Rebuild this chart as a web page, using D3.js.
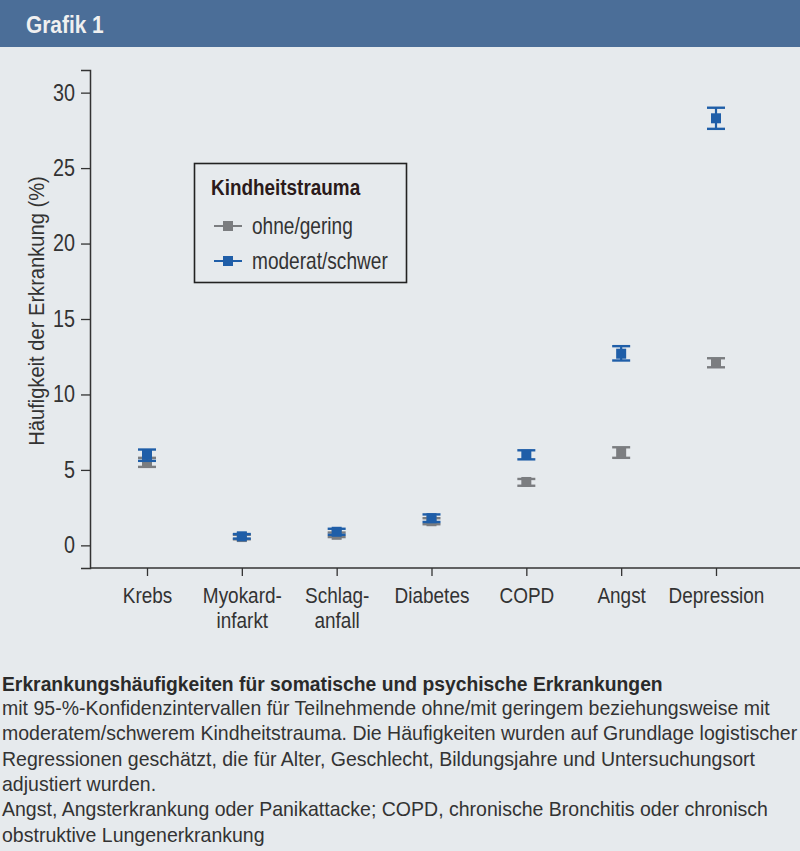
<!DOCTYPE html>
<html><head><meta charset="utf-8">
<script src="https://cdn.jsdelivr.net/npm/d3@7"></script>
<style>
html,body{margin:0;padding:0;background:#e6eaed;}
svg{display:block;}
text{font-family:"Liberation Sans Narrow","Arial Narrow","Liberation Sans",Arial,sans-serif;}
</style></head>
<body>
<svg id="chart" width="800" height="851"></svg>
<script>
const categories = ["Krebs", "Myokard-\ninfarkt", "Schlag-\nanfall", "Diabetes", "COPD", "Angst", "Depression"];
const seriesNames = ["ohne/gering", "moderat/schwer"];
const lowValues = [5.5, 0.55, 0.7, 1.6, 4.2, 6.15, 12.1];
const lowLower = [5.2, 0.4, 0.55, 1.4, 3.95, 5.8, 11.8];
const lowUpper = [5.8, 0.7, 0.85, 1.8, 4.4, 6.5, 12.4];
const highValues = [6.0, 0.6, 0.9, 1.8, 6.0, 12.7, 28.3];
const highLower = [5.6, 0.45, 0.7, 1.55, 5.7, 12.25, 27.6];
const highUpper = [6.35, 0.75, 1.1, 2.05, 6.3, 13.2, 29.0];
const yTicks = [0, 5, 10, 15, 20, 25, 30];
const legendTitle = "Kindheitstrauma";
const yLabel = "Häufigkeit der Erkrankung (%)";
const headerText = "Grafik 1";
const captionTitle = "Erkrankungshäufigkeiten für somatische und psychische Erkrankungen";
const captionLines = [
  "mit 95-%-Konfidenzintervallen für Teilnehmende ohne/mit geringem beziehungsweise mit",
  "moderatem/schwerem Kindheitstrauma. Die Häufigkeiten wurden auf Grundlage logistischer",
  "Regressionen geschätzt, die für Alter, Geschlecht, Bildungsjahre und Untersuchungsort",
  "adjustiert wurden.",
  "Angst, Angsterkrankung oder Panikattacke; COPD, chronische Bronchitis oder chronisch",
  "obstruktive Lungenerkrankung"
];
const colors = ["#7b7d80", "#1f5ea8"];

const svg = d3.select("#chart");
const W = 800;
const textColor = "#333";

// helper: condensed text
function ctext(parent, x0, y0, sx, size, str, opts = {}) {
  const t = parent.append("text")
    .attr("transform", `translate(${x0},${y0})${opts.rotate ? " rotate(" + opts.rotate + ")" : ""} scale(${sx},1)`)
    .attr("font-size", size)
    .attr("fill", opts.fill || textColor)
    .attr("text-anchor", opts.anchor || "start")
    .text(str);
  if (opts.bold) t.attr("font-weight", "bold");
  return t;
}

// header
svg.append("rect").attr("x",0).attr("y",0).attr("width",W).attr("height",47).attr("fill","#4b6e98");
ctext(svg, 26, 33, 0.87, 24, headerText, {bold:true, fill:"#f0f0f0"});

const x = d3.scalePoint().domain(categories).range([147, 716]);
const y = d3.scaleLinear().domain([-1.5, 31.5]).range([568, 70]);

// y axis
const yAxis = svg.append("g").attr("transform","translate(90,0)")
  .call(d3.axisLeft(y).tickValues(yTicks).tickSize(9).tickPadding(6));
yAxis.select(".domain").attr("stroke","#333").attr("stroke-width",1.5);
yAxis.selectAll(".tick line").attr("stroke","#333").attr("stroke-width",1.3);
yAxis.selectAll(".tick text")
  .attr("font-size",23).attr("fill",textColor)
  .attr("font-family",'"Liberation Sans",Arial,sans-serif')
  .attr("x",-15/0.86)
  .attr("transform","scale(0.86,1)");

// x axis
const xAxis = svg.append("g").attr("transform","translate(0,568)")
  .call(d3.axisBottom(x).tickSize(8).tickFormat(""));
xAxis.select(".domain").remove();
xAxis.selectAll(".tick line").attr("stroke","#333").attr("stroke-width",1.3);
svg.append("line").attr("x1",90).attr("x2",W).attr("y1",568).attr("y2",568)
  .attr("stroke","#333").attr("stroke-width",1.5);
xAxis.selectAll(".tick").each(function(d){
  const g = d3.select(this);
  d.split("\n").forEach((ln,i)=>{
    g.append("text").attr("fill",textColor).attr("font-size",22)
      .attr("text-anchor","middle")
      .attr("transform",`translate(0,${35 + i*24.5}) scale(0.862,1)`)
      .attr("font-family",'"Liberation Sans",Arial,sans-serif')
      .text(ln);
  });
});

// y label
ctext(svg, 44, 311, 0.915, 22, yLabel, {rotate:-90, anchor:"middle"});

// data
const series = [
  {vals: lowValues, lo: lowLower, hi: lowUpper, color: colors[0]},
  {vals: highValues, lo: highLower, hi: highUpper, color: colors[1]}
];
series.forEach(s=>{
  const g = svg.append("g");
  categories.forEach((c,i)=>{
    const cx = x(c);
    g.append("line").attr("x1",cx).attr("x2",cx).attr("y1",y(s.lo[i])).attr("y2",y(s.hi[i]))
      .attr("stroke",s.color).attr("stroke-width",2.2);
    [s.lo[i], s.hi[i]].forEach(v=>{
      g.append("line").attr("x1",cx-9).attr("x2",cx+9).attr("y1",y(v)).attr("y2",y(v))
        .attr("stroke",s.color).attr("stroke-width",2.4);
    });
    g.append("rect").attr("x",cx-5).attr("y",y(s.vals[i])-5).attr("width",10).attr("height",10)
      .attr("fill",s.color);
  });
});

// legend
const lg = svg.append("g");
lg.append("rect").attr("x",194.5).attr("y",163.5).attr("width",212).attr("height",119)
  .attr("fill","none").attr("stroke","#222").attr("stroke-width",1.6);
ctext(lg, 211, 195, 0.86, 22, legendTitle, {bold:true, fill:"#2a1a1a"});
seriesNames.forEach((n,i)=>{
  const yy = 226 + i*35;
  lg.append("line").attr("x1",214).attr("x2",242).attr("y1",yy).attr("y2",yy)
    .attr("stroke",colors[i]).attr("stroke-width",2);
  lg.append("rect").attr("x",223).attr("y",yy-5).attr("width",10).attr("height",10).attr("fill",colors[i]);
  ctext(lg, 252, yy+8, 0.83, 23, n);
});

// caption
ctext(svg, 2, 691, 0.92, 21, captionTitle, {bold:true, fill:"#2a2a2a"});
captionLines.forEach((l,i)=>{
  ctext(svg, 2, 715 + i*25.3, 0.93, 21, l);
});
</script>
</body></html>
